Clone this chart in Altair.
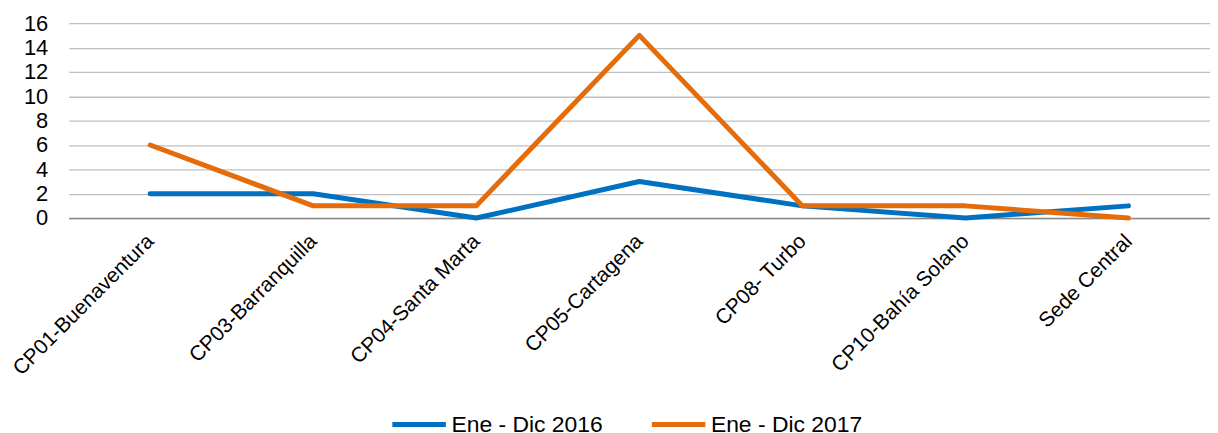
import altair as alt
import pandas as pd

categories = ["CP01-Buenaventura", "CP03-Barranquilla", "CP04-Santa Marta",
              "CP05-Cartagena", "CP08- Turbo", "CP10-Bahía Solano", "Sede Central"]
series_names = ["Ene - Dic 2016", "Ene - Dic 2017"]
values_2016 = [2, 2, 0, 3, 1, 0, 1]
values_2017 = [6, 1, 1, 15, 1, 1, 0]
y_ticks = [0, 2, 4, 6, 8, 10, 12, 14, 16]
colors = ["#0070C0", "#E46C0A"]

rows = []
for name, vals in zip(series_names, [values_2016, values_2017]):
    for c, v in zip(categories, vals):
        rows.append({"Sede": c, "Serie": name, "Valor": v})
df = pd.DataFrame(rows)

FONT = "Liberation Sans"

chart = alt.Chart(df).mark_line(
    strokeWidth=5, strokeCap="round", strokeJoin="round"
).encode(
    x=alt.X("Sede:N", sort=categories,
            scale=alt.Scale(type="point", padding=0.5),
            axis=alt.Axis(title=None, labelAngle=-45, labelAlign="right",
                          labelBaseline="middle", labelPadding=20, ticks=False,
                          domain=True, domainColor="#898989", domainWidth=1.5,
                          labelFontSize=21, labelFont=FONT, labelColor="#000000",
                          labelLimit=400, grid=False)),
    y=alt.Y("Valor:Q", scale=alt.Scale(domain=[0, 16], nice=False, zero=True),
            axis=alt.Axis(title=None, values=y_ticks, ticks=False, domain=False,
                          grid=True, gridColor="#C0C0C0", gridWidth=1.3,
                          labelFontSize=22, labelFont=FONT, labelColor="#000000",
                          labelPadding=21)),
    color=alt.Color("Serie:N", sort=series_names,
                    scale=alt.Scale(domain=series_names, range=colors),
                    legend=alt.Legend(title=None, orient="none", direction="horizontal",
                                      legendX=323, legendY=374,
                                      symbolType="stroke", symbolSize=2900,
                                      symbolStrokeWidth=5, labelFontSize=23,
                                      labelFont=FONT, labelColor="#000000",
                                      columnPadding=38, labelOffset=3)),
).properties(
    width=1148, height=196,
    padding={"left": 61, "top": 14, "right": 0, "bottom": 222},
    autosize=alt.AutoSizeParams(type="none"),
).configure_view(stroke=None)

chart.save("out.html", embed_options={"renderer": "svg", "actions": False})
